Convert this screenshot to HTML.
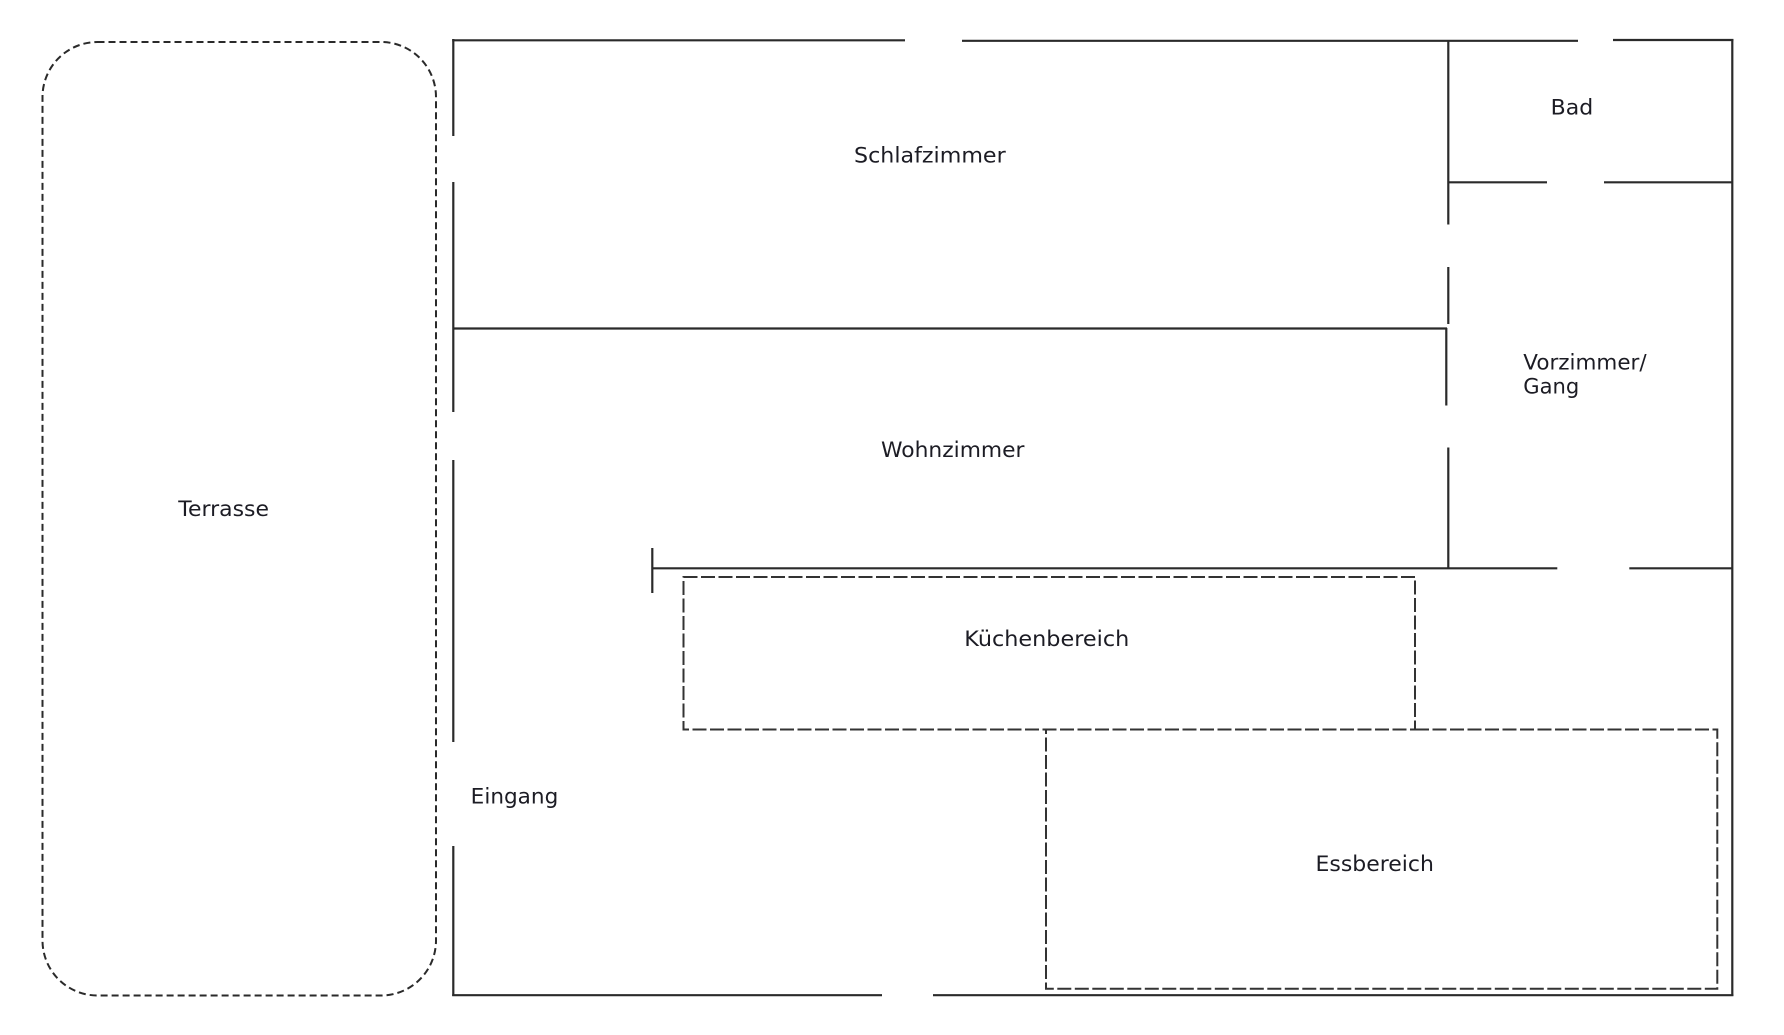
<!DOCTYPE html>
<html>
<head>
<meta charset="utf-8">
<style>
  html, body { margin: 0; padding: 0; background: #ffffff; }
  body { width: 1784px; height: 1035px; overflow: hidden; }
  svg { display: block; }
  text { font-family: "DejaVu Sans", "Liberation Sans", sans-serif; font-size: 21px; fill: #1c1c24; }
</style>
</head>
<body>
<svg width="1784" height="1035" viewBox="0 0 1784 1035" xmlns="http://www.w3.org/2000/svg">
  <rect x="0" y="0" width="1784" height="1035" fill="#ffffff"/>

  <!-- Terrasse (dashed rounded rect) -->
  <rect x="42.5" y="42" width="393.5" height="953.5" rx="55" ry="55" fill="none" stroke="#2a2a2a" stroke-width="2" stroke-dasharray="7 4"/>

  <!-- Walls -->
  <g stroke="#2a2a2a" stroke-width="2.2" fill="none" stroke-linecap="butt">
    <!-- left outer wall -->
    <line x1="453.3" y1="39" x2="453.3" y2="136"/>
    <line x1="453.3" y1="182" x2="453.3" y2="412"/>
    <line x1="453.3" y1="460" x2="453.3" y2="742"/>
    <line x1="453.3" y1="846" x2="453.3" y2="996"/>
    <!-- top outer wall -->
    <line x1="452.2" y1="40.3" x2="905" y2="40.3"/>
    <line x1="962" y1="40.8" x2="1578" y2="40.8"/>
    <line x1="1613" y1="40" x2="1733.4" y2="40"/>
    <!-- right outer wall -->
    <line x1="1732.3" y1="39" x2="1732.3" y2="996"/>
    <!-- bottom outer wall -->
    <line x1="452.2" y1="995.2" x2="882" y2="995.2"/>
    <line x1="933" y1="995.2" x2="1733.4" y2="995.2"/>

    <!-- Schlafzimmer / Wohnzimmer divider -->
    <line x1="453.3" y1="328.5" x2="1447" y2="328.5"/>

    <!-- vertical wall between main rooms and Vorzimmer -->
    <line x1="1448.3" y1="40" x2="1448.3" y2="224.5"/>
    <line x1="1448.3" y1="267" x2="1448.3" y2="324"/>
    <line x1="1446.3" y1="328" x2="1446.3" y2="405.5"/>
    <line x1="1448.3" y1="447.5" x2="1448.3" y2="568.5"/>

    <!-- Bad bottom wall -->
    <line x1="1448.3" y1="182.3" x2="1547" y2="182.3"/>
    <line x1="1604" y1="182.3" x2="1732.3" y2="182.3"/>

    <!-- Wohnzimmer bottom wall -->
    <line x1="652.3" y1="568.3" x2="1557.3" y2="568.3"/>
    <line x1="1629.3" y1="568.3" x2="1732.3" y2="568.3"/>
    <!-- end tick -->
    <line x1="652.3" y1="548" x2="652.3" y2="593"/>
  </g>

  <!-- Küchenbereich (dashed) -->
  <rect x="683.5" y="577" width="731.5" height="152.5" fill="none" stroke="#333333" stroke-width="2" stroke-dasharray="14 3.5"/>
  <!-- Essbereich (dashed), top edge shared with Küchen bottom drawn only once -->
  <path d="M1415 729.5 H1717.3 V988.7 H1046 V729.5" fill="none" stroke="#333333" stroke-width="2" stroke-dasharray="14 3.5"/>

  <!-- Labels -->
  <text x="178.3" y="516" textLength="90.7" lengthAdjust="spacingAndGlyphs">Terrasse</text>
  <text x="854" y="162.3" textLength="151.7" lengthAdjust="spacingAndGlyphs">Schlafzimmer</text>
  <text x="1550.7" y="114.3" textLength="42.6" lengthAdjust="spacingAndGlyphs">Bad</text>
  <text x="1523.3" y="369.3" textLength="123.3" lengthAdjust="spacingAndGlyphs">Vorzimmer/</text>
  <text x="1523.3" y="393.5" textLength="56" lengthAdjust="spacingAndGlyphs">Gang</text>
  <text x="881" y="457" textLength="143.5" lengthAdjust="spacingAndGlyphs">Wohnzimmer</text>
  <text x="964.3" y="646" textLength="165" lengthAdjust="spacingAndGlyphs">Küchenbereich</text>
  <text x="470.7" y="803.3" textLength="87.6" lengthAdjust="spacingAndGlyphs">Eingang</text>
  <text x="1315.5" y="871" textLength="118.4" lengthAdjust="spacingAndGlyphs">Essbereich</text>
</svg>
</body>
</html>
